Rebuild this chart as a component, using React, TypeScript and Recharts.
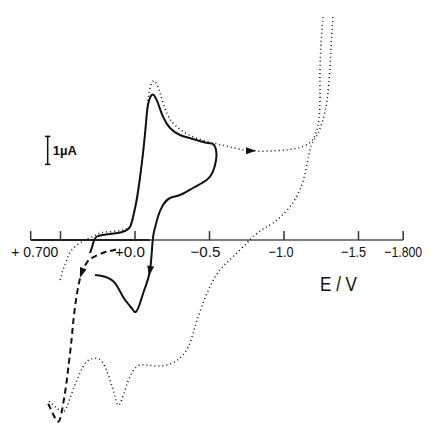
import React from "react";
import { LineChart, Line, XAxis, YAxis, ReferenceLine, ReferenceDot } from "recharts";

const WIDTH = 431;
const HEIGHT = 423;

// E in V (positive to the left), I in µA
const solidScan: [number, number][] = [
  [0.302, -0.464], [0.282, -0.143], [0.255, 0.125], [0.168, 0.214], [0.081, 0.296],
  [0.034, 0.464], [0.013, 0.821], [-0.011, 1.429], [-0.034, 2.25], [-0.054, 3.107],
  [-0.074, 4.179], [-0.087, 4.821], [-0.112, 5.179], [-0.134, 5.118], [-0.154, 4.893],
  [-0.188, 4.404], [-0.235, 4.0], [-0.302, 3.75], [-0.389, 3.607], [-0.481, 3.475],
  [-0.523, 3.429], [-0.544, 3.214], [-0.544, 2.857], [-0.523, 2.439], [-0.481, 2.143],
  [-0.389, 1.857], [-0.302, 1.607], [-0.235, 1.5], [-0.188, 1.25], [-0.154, 0.832],
  [-0.134, 0.429], [-0.119, 0], [-0.101, -1.071], [-0.067, -1.714], [-0.034, -2.25],
  [-0.007, -2.561], [0.013, -2.5], [0.034, -2.357], [0.081, -2.025], [0.134, -1.536],
  [0.201, -1.311], [0.268, -1.25],
];

const dottedForward: [number, number][] = [
  [0.503, -1.429], [0.483, -1.071], [0.458, -0.714], [0.425, -0.357], [0.369, -0.107],
  [0.336, 0], [0.282, 0.125], [0.235, 0.25], [0.148, 0.304], [0.056, 0.393],
  [0.027, 0.571], [0.007, 0.929], [-0.013, 1.429], [-0.034, 2.214], [-0.054, 3.107],
  [-0.074, 4.214], [-0.087, 5.0], [-0.104, 5.5], [-0.124, 5.679], [-0.141, 5.607],
  [-0.168, 5.25], [-0.213, 4.536], [-0.28, 4.046], [-0.389, 3.689], [-0.523, 3.464],
  [-0.638, 3.321], [-0.772, 3.189], [-0.951, 3.189], [-1.085, 3.275], [-1.174, 3.475],
  [-1.215, 3.821], [-1.235, 4.357], [-1.242, 5.179], [-1.242, 6.214], [-1.252, 7.321],
  [-1.262, 7.964],
];

const dottedReturn: [number, number][] = [
  [-1.329, 7.964], [-1.32, 7.321], [-1.309, 6.189], [-1.289, 5.0], [-1.255, 4.179],
  [-1.215, 3.679], [-1.174, 3.214], [-1.13, 2.143], [-1.04, 1.189], [-0.926, 0.607],
  [-0.85, 0.357], [-0.792, 0.118], [-0.75, -0.107], [-0.658, -0.596], [-0.57, -1.071],
  [-0.503, -1.668], [-0.448, -2.382], [-0.403, -3.096], [-0.369, -3.679], [-0.322, -4.107],
  [-0.255, -4.382], [-0.168, -4.5], [-0.081, -4.464], [-0.013, -4.518], [0.034, -4.882],
  [0.067, -5.357], [0.107, -5.893], [0.134, -5.596], [0.168, -5.0], [0.215, -4.393],
  [0.268, -4.225], [0.324, -4.346], [0.369, -4.75], [0.416, -5.357], [0.458, -5.954],
  [0.49, -6.161], [0.517, -6.036], [0.55, -5.893], [0.591, -5.679],
];

const dashedScan: [number, number][] = [
  [0.128, -0.339], [0.168, -0.393], [0.208, -0.446], [0.257, -0.554], [0.302, -0.679],
  [0.329, -0.857], [0.356, -1.143], [0.376, -1.536], [0.396, -2.143], [0.413, -2.857],
  [0.426, -3.571], [0.443, -4.357], [0.463, -5.214], [0.487, -6.0], [0.513, -6.482],
  [0.55, -6.214], [0.591, -5.75],
];

// direction arrows on the scans: position and heading (deg, screen)
const arrows = [
  { e: -0.101, i: -1.071, angle: 99 },
  { e: -0.772, i: 3.189, angle: 0 },
  { e: 0.356, i: -1.143, angle: 110 },
];

const tickValues = [0.7, 0.5, 0, -0.5, -1.0, -1.5, -1.8];
const tickLabels = ["+ 0.700", "", "+0.0", "\u22120.5", "\u22121.0", "\u22121.5", "\u22121.800"];

// 1 µA scale bar
const scaleBarE = 0.586;
const scaleBarTop = 3.7;
const scaleBarBottom = 2.7;

const toRows = (pts: [number, number][]) => pts.map(([e, i]) => ({ e, i }));

// nudge (px) and text width (px) of each tick label
const labelLayout = [
  { dx: 4, w: 47 },
  { dx: 0, w: 0 },
  { dx: -5, w: 30 },
  { dx: -4, w: 30 },
  { dx: -3, w: 25 },
  { dx: -5, w: 25 },
  { dx: 0, w: 38 },
];

const INK = "#111";

function Arrow({ cx, cy, angle }: { cx?: number; cy?: number; angle: number }) {
  if (cx == null || cy == null) return <g />;
  return (
    <path
      d="M 6 0 L -4 -3.5 L -4 3.5 Z"
      fill={INK}
      transform={`translate(${cx},${cy}) rotate(${angle})`}
    />
  );
}

export default function App() {
  return (
    <div
      style={{
        position: "absolute",
        left: 0,
        top: 0,
        width: WIDTH,
        height: HEIGHT,
        background: "#fff",
        fontFamily: "'Liberation Sans', Arial, sans-serif",
      }}
    >
      <LineChart width={WIDTH} height={HEIGHT} margin={{ top: 0, right: 0, bottom: 0, left: 0 }}>
        <XAxis
          type="number"
          dataKey="e"
          domain={[-1.9866, 0.906]}
          reversed
          allowDataOverflow
          hide
        />
        <YAxis type="number" dataKey="i" domain={[-6.5357, 8.5714]} allowDataOverflow hide />

        {/* potential axis */}
        <ReferenceLine
          segment={[{ x: 0.7, y: 0 }, { x: -0.1, y: 0 }]}
          stroke="#222"
          strokeWidth={2}
        />
        <ReferenceLine
          segment={[{ x: -0.1, y: 0 }, { x: -1.8, y: 0 }]}
          stroke="#555"
          strokeWidth={1.5}
        />
        {tickValues.map((t) => (
          <ReferenceLine
            key={`tk${t}`}
            segment={[{ x: t, y: 0 }, { x: t, y: 0.32 }]}
            stroke="#333"
            strokeWidth={1.5}
          />
        ))}
        {tickValues.map((t, k) =>
          tickLabels[k] ? (
            <ReferenceDot
              key={`lb${t}`}
              x={t}
              y={0}
              r={0}
              shape={(p: any) => (
                <text
                  x={p.cx + labelLayout[k].dx}
                  y={p.cy + 17}
                  textAnchor="middle"
                  fontSize={15}
                  fill={INK}
                  textLength={labelLayout[k].w}
                  lengthAdjust="spacingAndGlyphs"
                >
                  {tickLabels[k]}
                </text>
              )}
            />
          ) : null
        )}
        <ReferenceDot
          x={-1.366}
          y={-1.536}
          r={0}
          shape={(p: any) => (
            <text
              x={p.cx}
              y={p.cy + 7.5}
              textAnchor="middle"
              fontSize={21}
              fill={INK}
              textLength={37}
              lengthAdjust="spacingAndGlyphs"
            >
              E / V
            </text>
          )}
        />

        {/* scale bar */}
        <ReferenceLine
          segment={[{ x: scaleBarE, y: scaleBarTop }, { x: scaleBarE, y: scaleBarBottom }]}
          stroke={INK}
          strokeWidth={1.5}
        />
        {[scaleBarTop, scaleBarBottom].map((v) => (
          <ReferenceLine
            key={`cap${v}`}
            segment={[{ x: scaleBarE + 0.018, y: v }, { x: scaleBarE - 0.018, y: v }]}
            stroke={INK}
            strokeWidth={1.5}
          />
        ))}
        <ReferenceDot
          x={scaleBarE}
          y={(scaleBarTop + scaleBarBottom) / 2}
          r={0}
          shape={(p: any) => (
            <text x={p.cx + 5} y={p.cy + 5} fontSize={13} fill={INK} fontWeight="bold">
              1µA
            </text>
          )}
        />

        <Line
          data={toRows(dottedReturn)}
          dataKey="i"
          type="natural"
          stroke={INK}
          strokeWidth={1.5}
          strokeDasharray="1 3"
          dot={false}
          activeDot={false}
          isAnimationActive={false}
        />
        <Line
          data={toRows(dottedForward)}
          dataKey="i"
          type="natural"
          stroke={INK}
          strokeWidth={1.5}
          strokeDasharray="1 3"
          dot={false}
          activeDot={false}
          isAnimationActive={false}
        />
        <Line
          data={toRows(dashedScan)}
          dataKey="i"
          type="natural"
          stroke={INK}
          strokeWidth={2}
          strokeDasharray="6 4"
          dot={false}
          activeDot={false}
          isAnimationActive={false}
        />
        <Line
          data={toRows(solidScan)}
          dataKey="i"
          type="natural"
          stroke={INK}
          strokeWidth={2}
          dot={false}
          activeDot={false}
          isAnimationActive={false}
        />

        {arrows.map((a, k) => (
          <ReferenceDot
            key={`ar${k}`}
            x={a.e}
            y={a.i}
            r={0}
            shape={(p: any) => <Arrow cx={p.cx} cy={p.cy} angle={a.angle} />}
          />
        ))}
      </LineChart>
    </div>
  );
}
